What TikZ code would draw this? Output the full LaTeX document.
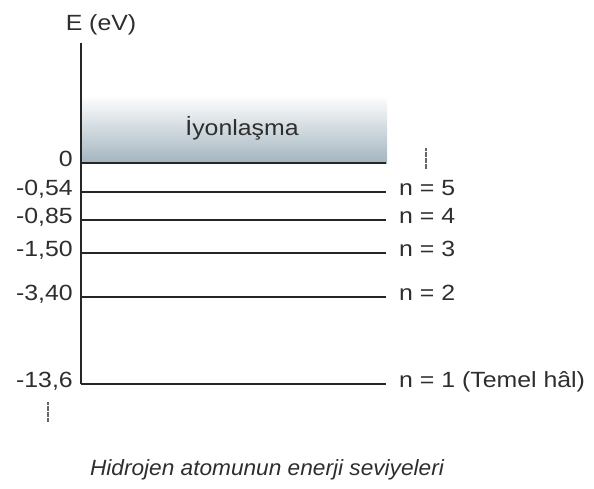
\documentclass[tikz,border=0pt]{standalone}
\usepackage{fontspec}
\setmainfont[FakeStretch=1.13]{Liberation Sans}
\newfontfamily\capfont[FakeStretch=1.03]{Liberation Sans}
\begin{document}
\begin{tikzpicture}[x=1pt,y=-1pt,
  level/.style={line width=2.4pt,draw=black!85},
  axisline/.style={line width=2.4pt,draw=black!85},
  lbl/.style={inner sep=0pt,font=\fontsize{22}{25}\selectfont,text=black!82},
  dotmark/.style={line width=2pt,draw=black!60,dash pattern=on 0.6pt off 0.6pt}]
\useasboundingbox (0,0) rectangle (594,488);
% ionisation band
\shade[top color=white,bottom color={rgb,255:red,163;green,181;blue,191}] (81,95) rectangle (387,163);
\node[lbl,anchor=base] (ion) at (242,135) {İyonlaşma};
% axis
\coordinate (atop) at (81,43);
\coordinate (abot) at (81,384);
\draw[axisline] (atop) -- (abot);
\node[lbl,anchor=base] (E) at (101,30) {E (eV)};
% levels
\foreach \nm/\y/\val in {z/163/0,l5/192/-0{,}54,l4/220/-0{,}85,l3/253/-1{,}50,l2/297/-3{,}40,l1/384/-13{,}6}{
  \coordinate (\nm a) at (81,\y);
  \coordinate (\nm b) at (386,\y);
  \draw[level] (\nm a) -- (\nm b);
  \node[lbl,anchor=base east] (v\nm) at (73,\y+3) {\val};
}
\node[lbl,anchor=base west] (n5) at (399,195) {n = 5};
\node[lbl,anchor=base west] (n4) at (399,223) {n = 4};
\node[lbl,anchor=base west] (n3) at (399,256) {n = 3};
\node[lbl,anchor=base west] (n2) at (399,300) {n = 2};
\node[lbl,anchor=base west] (n1) at (399,387) {n = 1 (Temel hâl)};
% dotted marks
\coordinate (d1a) at (426,148);
\coordinate (d1b) at (426,169);
\draw[dotmark] (d1a) -- (d1b);
\coordinate (d2a) at (48,402);
\coordinate (d2b) at (48,422);
\draw[dotmark] (d2a) -- (d2b);
% caption
\node[lbl,anchor=base,font=\capfont\fontsize{22}{25}\selectfont\itshape] (cap) at (267,475) {Hidrojen atomunun enerji seviyeleri};
\end{tikzpicture}
\end{document}
